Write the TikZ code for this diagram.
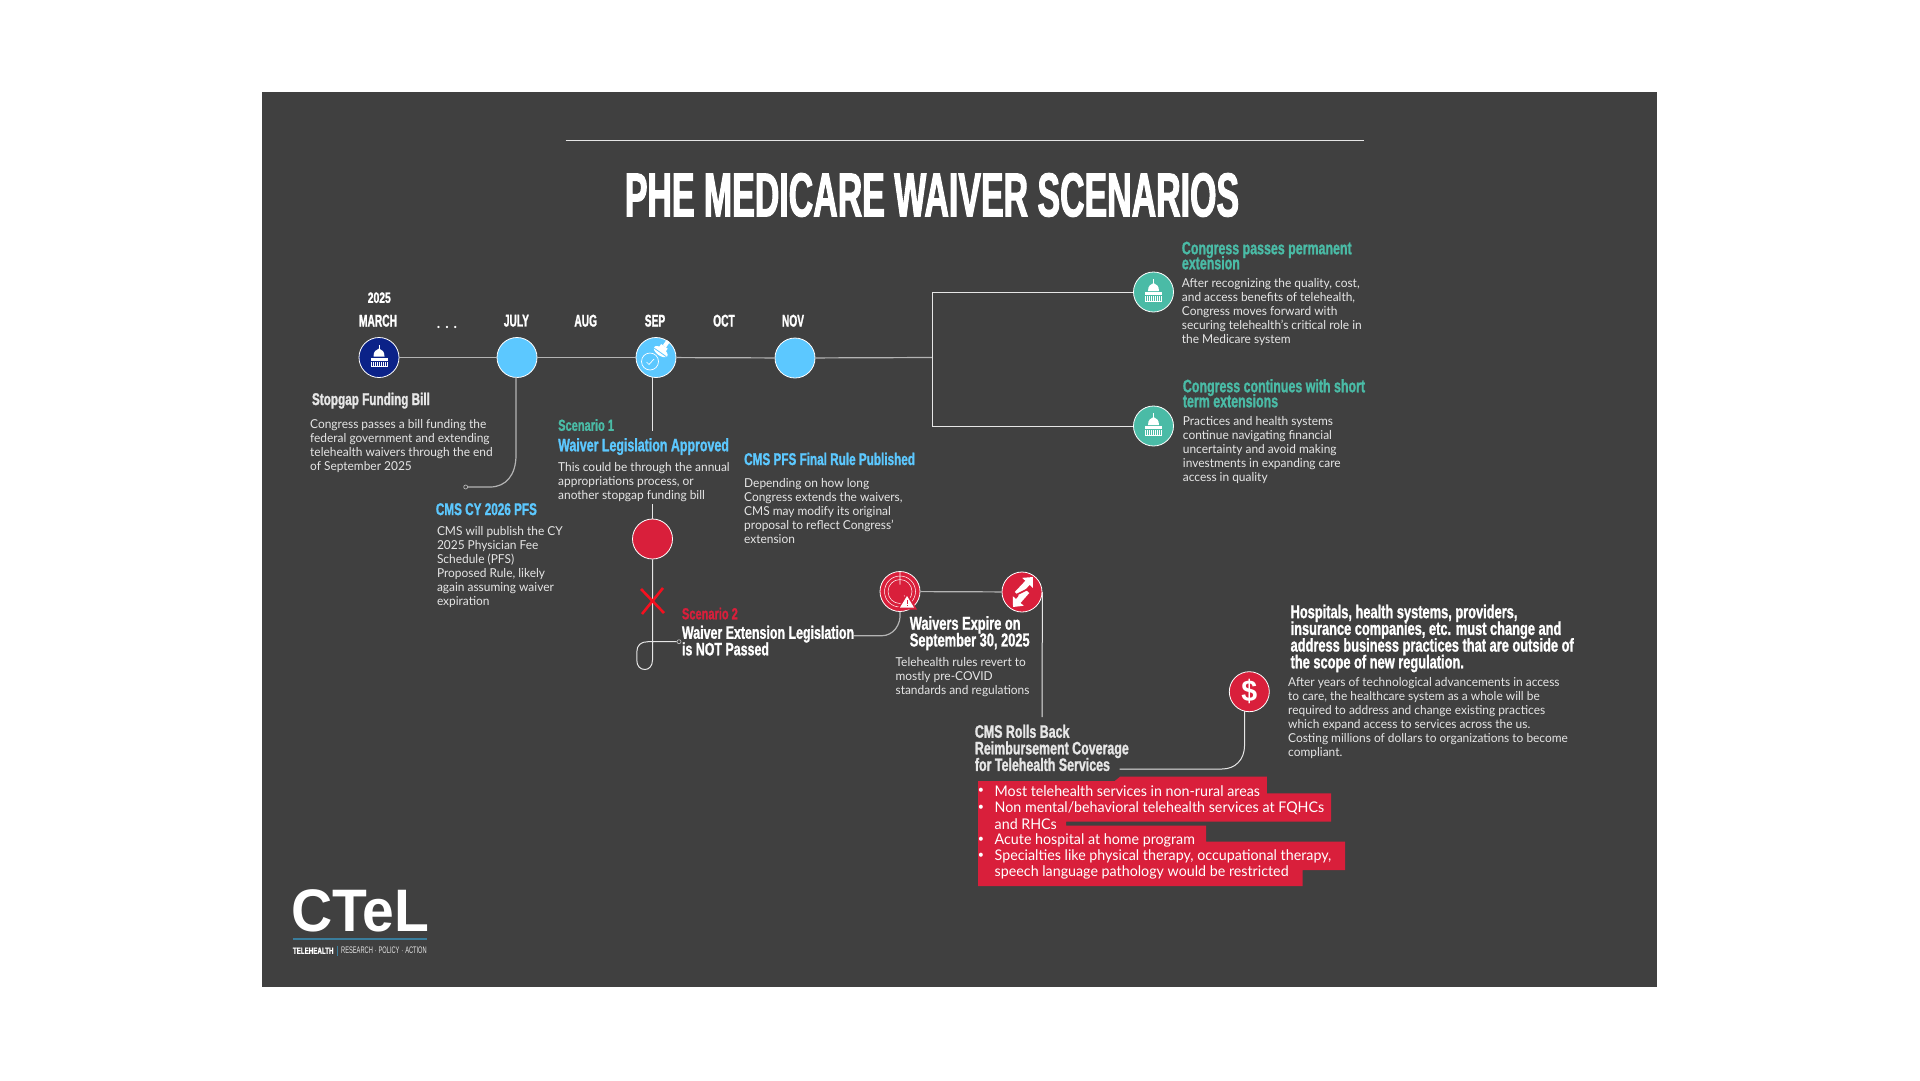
\documentclass[tikz,border=0pt]{standalone}
\usepackage{fontspec}
\setmainfont[FakeStretch=0.97]{Lato}
\newfontfamily\headfont[FakeStretch=0.69,BoldFeatures={FakeBold=1.2}]{Liberation Sans}
\newfontfamily\narrowfont[FakeStretch=0.6,BoldFeatures={FakeBold=1.2}]{Liberation Sans}
\newfontfamily\titlefont[FakeStretch=0.547,BoldFeatures={FakeBold=1.6}]{Liberation Sans}
\newfontfamily\logofont[FakeStretch=0.95]{Liberation Sans}
\usetikzlibrary{arrows.meta,calc}
\definecolor{panelgray}{HTML}{404040}
\definecolor{linegray}{HTML}{B4B4B4}
\definecolor{bodygray}{HTML}{E6E6E6}
\definecolor{skyblue}{HTML}{5CC8FF}
\definecolor{tealgreen}{HTML}{4ABBA6}
\definecolor{alarmred}{HTML}{D91F3B}
\definecolor{crossred}{HTML}{F5101F}
\definecolor{navyblue}{HTML}{0B2288}
\definecolor{logoblue}{HTML}{3A7D9C}
\tikzset{
  stage/.style={circle, draw=white, line width=0.8pt, minimum size=40pt, inner sep=0pt},
  wire/.style={draw=linegray, line width=1.2pt},
  thinwire/.style={draw=bodygray, line width=1pt},
  endpt/.style={circle, draw=linegray, fill=panelgray, line width=0.7pt, minimum size=4pt, inner sep=0pt},
  bodytext/.style={anchor=north west, inner sep=0pt, align=left, text=bodygray, font=\fontsize{12.3}{14}\selectfont},
  headtext/.style={anchor=north west, inner sep=0pt, align=left, font={\headfont\bfseries\fontsize{18}{16.6}\selectfont\lineskiplimit-10pt\relax}},
  tighthead/.style={headtext, font={\headfont\bfseries\fontsize{18}{15}\selectfont\lineskiplimit-10pt\relax}},
  widehead/.style={headtext, font={\headfont\bfseries\fontsize{18.6}{16.7}\selectfont\lineskiplimit-10pt\relax}},
  slimhead/.style={headtext, font={\headfont\bfseries\fontsize{17}{16.6}\selectfont\lineskiplimit-10pt\relax}},
  scenariotext/.style={headtext, font=\headfont\bfseries\fontsize{16}{16}\selectfont},
  monthtext/.style={inner sep=0pt, text=white, font=\narrowfont\bfseries\fontsize{17}{17}\selectfont},
  pics/capitol/.style={code={
    \fill[white] (-0.4,-13) rectangle (0.4,-8);
    \fill[white] (-5.5,-1) .. controls (-5.5,-6) and (-3,-8) .. (0,-9) .. controls (3,-8) and (5.5,-6) .. (5.5,-1) -- cycle;
    \fill[white] (-8.5,0) rectangle (8.5,3);
    \foreach \c in {-8,-6,...,8} {\fill[white] (\c-0.45,4) rectangle (\c+0.45,8.5);}
    \fill[white] (-8.5,8.5) rectangle (8.5,9.3);
  }},
}
\begin{document}
\begin{tikzpicture}[x=1pt, y=-1pt]
\useasboundingbox (0,0) rectangle (1920,1080);
\fill[white] (0,0) rectangle (1920,1080);
\fill[panelgray] (261.5,92) rectangle (1657,987);

% Title
\draw[bodygray, line width=1pt] (565.7,140.8) -- (1364,140.8);
\node[inner sep=0pt, text=white, font=\titlefont\bfseries\fontsize{62}{62}\selectfont] (title) at (932,195) {PHE MEDICARE WAIVER SCENARIOS};

% Months
\node[inner sep=0pt, text=white, font=\headfont\bfseries\fontsize{15}{15}\selectfont] (year) at (379.3,297.7) {2025};
\foreach \x/\lab in {378/MARCH,516.4/JULY,585.7/AUG,655/SEP,724/OCT,793/NOV} {
  \node[monthtext] (month\lab) at (\x,320.7) {\lab};
}
\node[anchor=base, inner sep=0pt, text=white, font=\bfseries\fontsize{15}{15}\selectfont] (dots) at (447,328.5) {.\,\,.\,\,.};

% Timeline
\node[stage, fill=navyblue] (march) at (379,357.5) {};
\node[stage, fill=skyblue] (july) at (517,357.5) {};
\node[stage, fill=skyblue] (sep) at (656,357.5) {};
\node[stage, fill=skyblue] (nov) at (795,358) {};
\coordinate (branch) at (932,357.5);
\draw[wire] (march) -- (july);
\draw[wire] (july) -- (sep);
\draw[wire] (sep) -- (nov);
\draw[wire] (nov) -- (branch);

% Congress outcomes
\node[stage, fill=tealgreen] (permanent) at (1153.5,292) {};
\node[stage, fill=tealgreen] (shortterm) at (1153.5,426) {};
\draw[thinwire] (permanent) -| (branch);
\draw[thinwire] (shortterm) -| (branch);
\pic at (march) {capitol};
\pic at (permanent) {capitol};
\pic at (shortterm) {capitol};

% Stamp icon
\draw[white, line width=0.7pt] ($(sep)+(-6,4)$) circle (8.5);
\draw[white, line width=0.7pt] ($(sep)+(-9.5,4.5)$) -- ($(sep)+(-7,7)$) -- ($(sep)+(-2,1.5)$);
\fill[white, rotate around={-35:(sep)}] ($(sep)+(0.5,-7.5)$) ellipse (8 and 4);
\fill[skyblue, rotate around={-35:(sep)}] ($(sep)+(-8,-7)$) rectangle ($(sep)+(8,-6.2)$);
\fill[white, rotate around={-35:(sep)}] ($(sep)+(-3.5,-14)$) rectangle ($(sep)+(4.5,-9)$);
\fill[white, rotate around={-35:(sep)}] ($(sep)+(-1.5,-20.5)$) rectangle ($(sep)+(2.5,-14)$);

% July branch
\coordinate (julydrop) at (516,376.7);
\node[endpt] (julyend) at (465.7,487) {};
\draw[wire] (julydrop) -- (516,455) .. controls (516,475) and (506,487) .. (490,487) -- (julyend);

% Scenario 1
\coordinate (sepdrop) at (652,377);
\coordinate (sepstop) at (652,430.7);
\coordinate (redtop) at (652.5,504);
\draw[thinwire] (sepdrop) -- (sepstop);
\node[stage, fill=alarmred] (red) at (652.5,539) {};
\draw[thinwire] (redtop) -- (red);

% Scenario 2 loop and cross
\node[endpt] (loopend) at (679,641.7) {};
\draw[thinwire] (red) -- (652.5,660) .. controls (652.5,666) and (649,669.5) .. (645,669.5) .. controls (640,669.5) and (636.8,666) .. (636.8,660) -- (636.8,652) .. controls (636.8,645) and (641,641.7) .. (648,641.7) -- (loopend);
\draw[crossred, line width=2.6pt] (641,589) -- (664,613);
\draw[crossred, line width=2.6pt] (663,588) -- (642,614);

% Waiver expiry
\node[stage, fill=alarmred] (clock) at (900,591.5) {};
\node[stage, fill=alarmred] (rollback) at (1022,592) {};
\coordinate (notpassed) at (853.6,635.7);
\draw[wire] (notpassed) -- (882,635.7) .. controls (893,635.7) and (901.4,625) .. (clock.south);
\draw[wire] (clock) -- (rollback);
\coordinate (rollstop) at (1042,717);
\draw[thinwire] (rollback.east) -- (rollstop);

% Clock icon
\draw[white, line width=0.5pt] (clock) circle (15.5);
\draw[white, line width=0.5pt] (clock) circle (12);
\draw[white, line width=0.7pt] ($(clock)+(0,-7)$) -- (clock) -- ($(clock)+(4,4)$);
\fill[alarmred] ($(clock)+(7,1)$) -- ($(clock)+(17,18)$) -- ($(clock)+(-3,18)$) -- cycle;
\fill[white] ($(clock)+(7,4.5)$) -- ($(clock)+(14,16)$) -- ($(clock)+(0,16)$) -- cycle;
\fill[alarmred] ($(clock)+(6.5,8.5)$) rectangle ($(clock)+(7.5,12.5)$);
\fill[alarmred] ($(clock)+(6.5,13.3)$) rectangle ($(clock)+(7.5,14.5)$);

% Arrows icon
\draw[white, line width=6pt, -{Triangle[width=14pt,length=8pt]}] ($(rollback)+(-5,2)$) -- ($(rollback)+(11,-15)$);
\draw[white, line width=6pt, -{Triangle[width=14pt,length=8pt]}] ($(rollback)+(5,-1)$) -- ($(rollback)+(-9,15)$);
\draw[alarmred, line width=1.6pt] ($(rollback)+(-8,4)$) -- ($(rollback)+(8,-4)$);

% Dollar
\node[stage, fill=alarmred, text=white, font=\logofont\bfseries\fontsize{30}{30}\selectfont] (dollar) at (1249.3,691.7) {\$};
\coordinate (dollardrop) at (1244.6,711);
\coordinate (rollend) at (1119.6,769);
\draw[thinwire] (dollardrop) -- (1244.6,745) .. controls (1244.6,760) and (1235,769) .. (1222,769) -- (rollend);

% Texts
\node[slimhead, text=bodygray] (stopgaphead) at (311.8,392.5) {Stopgap Funding Bill};
\node[bodytext] (stopgapbody) at (310,419) {Congress passes a bill funding the\\federal government and extending\\telehealth waivers through the end\\of September 2025};
\node[slimhead, text=skyblue] (pfshead) at (435.7,503) {CMS CY 2026 PFS};
\node[bodytext] (pfsbody) at (436.8,526.5) {CMS will publish the CY\\2025 Physician Fee\\Schedule (PFS)\\Proposed Rule, likely\\again assuming waiver\\expiration};
\node[scenariotext, text=tealgreen] (scenone) at (558,419) {Scenario 1};
\node[headtext, text=skyblue] (scenonehead) at (558,438) {Waiver Legislation Approved};
\node[bodytext] (scenonebody) at (558,462) {This could be through the annual\\appropriations process, or\\another stopgap funding bill};
\node[slimhead, text=skyblue] (finalhead) at (744,452.5) {CMS PFS Final Rule Published};
\node[bodytext] (finalbody) at (744,478) {Depending on how long\\Congress extends the waivers,\\CMS may modify its original\\proposal to reflect Congress'\\extension};
\node[scenariotext, text=alarmred] (scentwo) at (681.8,607.5) {Scenario 2};
\node[headtext, text=white] (scentwohead) at (681.8,625.5) {Waiver Extension Legislation\\is NOT Passed};
\node[widehead, text=white] (expirehead) at (909.6,616) {Waivers Expire on\\September 30, 2025};
\node[bodytext] (expirebody) at (895.4,657) {Telehealth rules revert to\\mostly pre-COVID\\standards and regulations};
\node[headtext, text=bodygray] (rollhead) at (974.7,724.5) {CMS Rolls Back\\Reimbursement Coverage\\for Telehealth Services};
\node[tighthead, text=tealgreen] (permhead) at (1181.7,241.5) {Congress passes permanent\\extension};
\node[bodytext] (permbody) at (1181.7,278) {After recognizing the quality, cost,\\and access benefits of telehealth,\\Congress moves forward with\\securing telehealth's critical role in\\the Medicare system};
\node[tighthead, text=tealgreen] (shorthead) at (1182.7,379) {Congress continues with short\\term extensions};
\node[bodytext] (shortbody) at (1182.7,416) {Practices and health systems\\continue navigating financial\\uncertainty and avoid making\\investments in expanding care\\access in quality};
\node[widehead, text=white] (hospitalhead) at (1290.4,604.5) {Hospitals, health systems, providers,\\insurance companies, etc. must change and\\address business practices that are outside of\\the scope of new regulation.};
\node[bodytext] (hospitalbody) at (1288,677) {After years of technological advancements in access\\to care, the healthcare system as a whole will be\\required to address and change existing practices\\which expand access to services across the us.\\Costing millions of dollars to organizations to become\\compliant.};

% Red list
\fill[alarmred] (978,781) -- (1114.8,781) -- (1120,776.7) -- (1266.8,776.7) -- (1266.8,793.3) -- (1331,793.3) -- (1331,821.7) -- (1066,821.7) -- (1066,825.7) -- (1206,825.7) -- (1206,841.7) -- (1345,841.7) -- (1345,870) -- (1302.7,870) -- (1302.7,886) -- (978,886) -- cycle;
\foreach \y/\txt [count=\i] in {790.7/{Most telehealth services in non-rural areas},
    808/{Non mental/behavioral telehealth services at FQHCs},
    823.8/{and RHCs},
    840.3/{Acute hospital at home program},
    856.3/{Specialties like physical therapy, occupational therapy,},
    872.7/{speech language pathology would be restricted}} {
  \node[anchor=west, inner sep=0pt, text=white, font=\fontsize{14.7}{14.7}\selectfont] (item\i) at (994.5,\y) {\txt};
}
\foreach \y [count=\i] in {790.7,808,840.3,856.3} {
  \node[inner sep=0pt, text=white, font=\fontsize{11}{11}\selectfont] (bullet\i) at (981,\y) {\textbullet};
}

% Logo
\node[anchor=base west, inner sep=0pt, text=white, font=\logofont\bfseries\fontsize{60}{60}\selectfont] (logo) at (291,931) {CTeL};
\draw[logoblue, line width=1.4pt] (292.7,939) -- (426.7,939);
\node[anchor=west, inner sep=0pt, text=white, font=\headfont\bfseries\fontsize{9}{9}\selectfont] (logoa) at (292.7,950.7) {TELEHEALTH};
\draw[logoblue, line width=0.8pt] (337.7,945.5) -- (337.7,955.5);
\node[anchor=west, inner sep=0pt, text=bodygray, font=\narrowfont\fontsize{9.5}{9.5}\selectfont] (logob) at (341,950.7) {RESEARCH $\cdot$ POLICY $\cdot$ ACTION};
\end{tikzpicture}
\end{document}
